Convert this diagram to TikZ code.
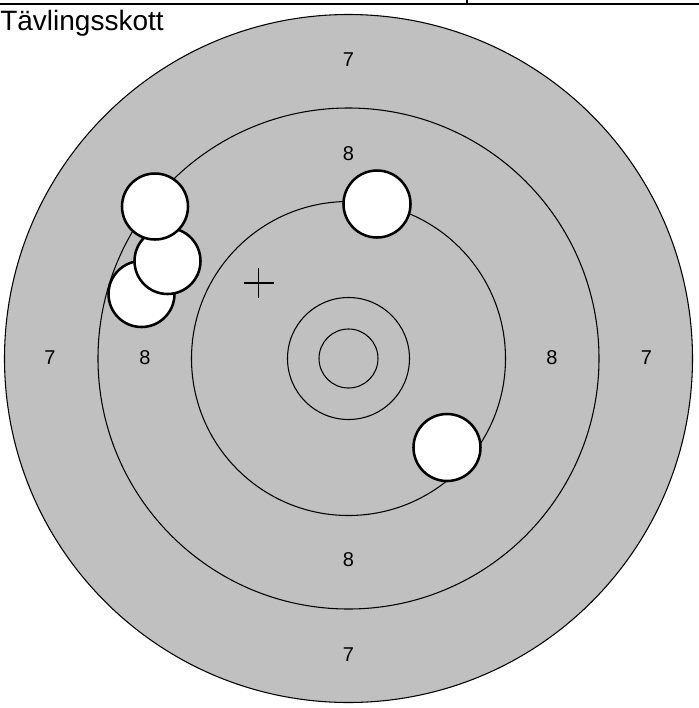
\documentclass[tikz,border=0pt]{standalone}
\usepackage{fontspec}
\setmainfont{Liberation Sans}
\begin{document}
\begin{tikzpicture}[x=0.75pt,y=-0.75pt,
  ring/.style={draw=black,line width=0.8pt},
  shot/.style={draw=black,fill=white,line width=1.9pt},
  score/.style={inner sep=0pt,font=\fontsize{15}{15}\selectfont},
  title/.style={inner sep=0pt,anchor=base west,font=\fontsize{21}{21}\selectfont}]
\useasboundingbox (0,0) rectangle (699,708);
\coordinate (c) at (348.5,358.5);
% table border at top
\draw[line width=0.8pt] (0,4) -- (699,4);
\draw[line width=0.8pt] (467,0) -- (467,4);
\node[title] (t) at (0,30) {Tävlingsskott};
% target
\fill[fill={rgb,255:red,192;green,192;blue,192}] (c) circle[radius=344];
\draw[ring] (c) circle[radius=344];
\draw[ring] (c) circle[radius=250.5];
\draw[ring] (c) circle[radius=157];
\draw[ring] (c) circle[radius=61];
\draw[ring] (c) circle[radius=29.5];
% scores
\node[score] (s7t) at (348.5,59.5) {7};
\node[score] (s7b) at (348.5,655) {7};
\node[score] (s7l) at (50,358) {7};
\node[score] (s7r) at (646.5,358) {7};
\node[score] (s8t) at (348.5,154) {8};
\node[score] (s8b) at (348.5,560) {8};
\node[score] (s8l) at (145,358) {8};
\node[score] (s8r) at (552,358) {8};
% aim cross
\draw[line width=0.8pt] (243.5,283) -- (273.5,283);
\draw[line width=0.8pt] (258.5,268) -- (258.5,298);
% shots
\draw[shot] (141.5,294) circle[radius=33];
\draw[shot] (167.5,261) circle[radius=33];
\draw[shot] (155,206.5) circle[radius=33];
\draw[shot] (377,204) circle[radius=33.5];
\draw[shot] (447,447.5) circle[radius=33.5];
\end{tikzpicture}
\end{document}
